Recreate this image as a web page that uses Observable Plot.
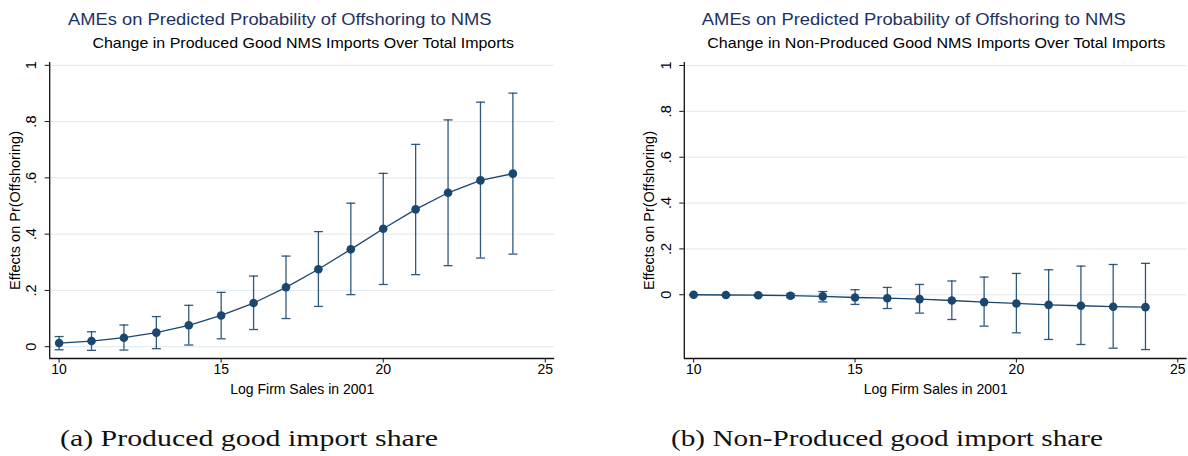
<!DOCTYPE html>
<html><head><meta charset="utf-8">
<script src="https://cdn.jsdelivr.net/npm/d3@7"></script>
<script src="https://cdn.jsdelivr.net/npm/@observablehq/plot@0.6"></script>
<style>
body{margin:0;background:#fff;}
#root{position:relative;width:1188px;height:456px;overflow:hidden;font-family:"Liberation Sans",Arial,sans-serif;}
.panel{position:absolute;top:0;}
.t{position:absolute;white-space:nowrap;line-height:1;}
</style></head><body><div id="root"></div>
<script>
// ---- data ----
const logSales = [10, 11, 12, 13, 14, 15, 16, 17, 18, 19, 20, 21, 22, 23, 24];
const producedEst = [0.013, 0.020, 0.032, 0.050, 0.076, 0.111, 0.155, 0.211, 0.275, 0.346, 0.419, 0.488, 0.547, 0.591, 0.615];
const producedLo  = [-0.011, -0.013, -0.012, -0.007, 0.006, 0.028, 0.061, 0.100, 0.143, 0.185, 0.221, 0.256, 0.288, 0.315, 0.329];
const producedHi  = [0.036, 0.053, 0.077, 0.107, 0.147, 0.193, 0.251, 0.322, 0.409, 0.510, 0.616, 0.719, 0.806, 0.869, 0.901];
const nonProdEst = [0.000, -0.001, -0.002, -0.004, -0.007, -0.012, -0.015, -0.019, -0.025, -0.032, -0.038, -0.044, -0.048, -0.052, -0.054];
const nonProdLo  = [0.000, -0.002, -0.005, -0.012, -0.031, -0.042, -0.060, -0.080, -0.108, -0.137, -0.166, -0.195, -0.217, -0.233, -0.239];
const nonProdHi  = [0.000, 0.000, 0.001, 0.004, 0.014, 0.022, 0.032, 0.045, 0.060, 0.077, 0.093, 0.109, 0.125, 0.132, 0.137];
const xTicks = [10, 15, 20, 25];
const yTicks = [0, 0.2, 0.4, 0.6, 0.8, 1];
const yTickLabels = ["0", ".2", ".4", ".6", ".8", "1"];
const titleText = "AMEs on Predicted Probability of Offshoring to NMS";
const subtitles = ["Change in Produced Good NMS Imports Over Total Imports", "Change in Non-Produced Good NMS Imports Over Total Imports"];
const captions = ["(a) Produced good import share", "(b) Non-Produced good import share"];
const xLabel = "Log Firm Sales in 2001";
const yLabel = "Effects on Pr(Offshoring)";

// ---- styles ----
const navy = "#1a476f";
const gridColor = "#e0e9ec";
const xDomain = [9.71, 25.29];
const capSymbol = {draw(ctx, size) { const r = Math.sqrt(size / Math.PI); ctx.moveTo(-r, 0); ctx.lineTo(r, 0); }};

function panel(est, lo, hi, cfg) {
  const data = logSales.map((x, i) => ({x, est: est[i], lo: lo[i], hi: hi[i]}));
  return Plot.plot({
    width: 594, height: 400,
    marginLeft: cfg.ml, marginRight: cfg.mr, marginTop: 62, marginBottom: 42,
    style: {fontFamily: "Liberation Sans, Arial, sans-serif", background: "transparent", color: "#000", overflow: "visible"},
    x: {domain: xDomain},
    y: {domain: cfg.yDomain},
    marks: [
      Plot.gridY(yTicks, {stroke: gridColor, strokeOpacity: 1, strokeWidth: 1}),
      Plot.ruleY([cfg.yDomain[0]], {stroke: "#111", strokeWidth: 1.3}),
      Plot.ruleX([xDomain[0]], {stroke: "#111", strokeWidth: 1.3}),
      Plot.axisX({ticks: xTicks, tickSize: 4.5, tickPadding: 1.5, fontSize: 14, stroke: "#111",
        label: xLabel, labelAnchor: "center", labelOffset: 35.5, labelArrow: "none"}),
      Plot.axisY({ticks: yTicks, tickFormat: d => yTickLabels[yTicks.indexOf(d)], tickSize: 4.5, tickRotate: -90,
        tickPadding: 9, fontSize: 14.5, stroke: "#111",
        label: yLabel, labelAnchor: "center", labelOffset: cfg.lo, labelArrow: "none"}),
      Plot.ruleX(data, {x: "x", y1: "lo", y2: "hi", stroke: navy, strokeWidth: 1.3, strokeOpacity: 0.9}),
      Plot.dot(data, {x: "x", y: "hi", symbol: capSymbol, r: 4.5, stroke: navy, strokeWidth: 1.3, fill: "none", strokeOpacity: 0.9}),
      Plot.dot(data, {x: "x", y: "lo", symbol: capSymbol, r: 4.5, stroke: navy, strokeWidth: 1.3, fill: "none", strokeOpacity: 0.9}),
      Plot.line(data, {x: "x", y: "est", stroke: navy, strokeWidth: 1.3}),
      Plot.dot(data, {x: "x", y: "est", r: 4.3, fill: navy, stroke: "none"})
    ]
  });
}

const root = document.getElementById("root");
const left = panel(producedEst, producedLo, producedHi, {ml: 49.2, mr: 39.8, yDomain: [-0.042, 1.01], lo: 40});
left.classList.add("panel"); left.style.left = "0px";
root.appendChild(left);
const right = panel(nonProdEst, nonProdLo, nonProdHi, {ml: 89.8, mr: 1.4, yDomain: [-0.278, 1.013], lo: 41});
right.classList.add("panel"); right.style.left = "594px";
root.appendChild(right);

function addText(str, o) {
  const el = document.createElement("div");
  el.className = "t";
  el.textContent = str;
  el.style.fontSize = o.fs + "px";
  el.style.fontFamily = o.family;
  el.style.color = o.color;
  el.style.top = (o.baseline - o.asc * o.fs) + "px";
  root.appendChild(el);
  const w = el.getBoundingClientRect().width;
  const s = o.width / w;
  if (o.cx !== undefined) {
    el.style.left = (o.cx - w / 2) + "px";
    el.style.transformOrigin = "50% 50%";
  } else {
    el.style.left = o.left + "px";
    el.style.transformOrigin = "0 50%";
  }
  el.style.transform = `scaleX(${s})`;
}
const sans = "'Liberation Sans', Arial, sans-serif";
const serif = "'Liberation Serif', 'Times New Roman', serif";
addText(titleText, {cx: 280, baseline: 26.7, fs: 16.8, family: sans, color: "#1e325f", asc: 0.8465, width: 423.5});
addText(titleText, {cx: 914, baseline: 26.7, fs: 16.8, family: sans, color: "#1e325f", asc: 0.8465, width: 424});
addText(subtitles[0], {cx: 302.8, baseline: 48.3, fs: 14.8, family: sans, color: "#000", asc: 0.8465, width: 421.6});
addText(subtitles[1], {cx: 936, baseline: 48.3, fs: 14.8, family: sans, color: "#000", asc: 0.8465, width: 458});
addText(captions[0], {left: 60, baseline: 446, fs: 24, family: serif, color: "#111", asc: 0.8375, width: 378});
addText(captions[1], {left: 670.5, baseline: 446, fs: 24, family: serif, color: "#111", asc: 0.8375, width: 432});
</script>
</body></html>
